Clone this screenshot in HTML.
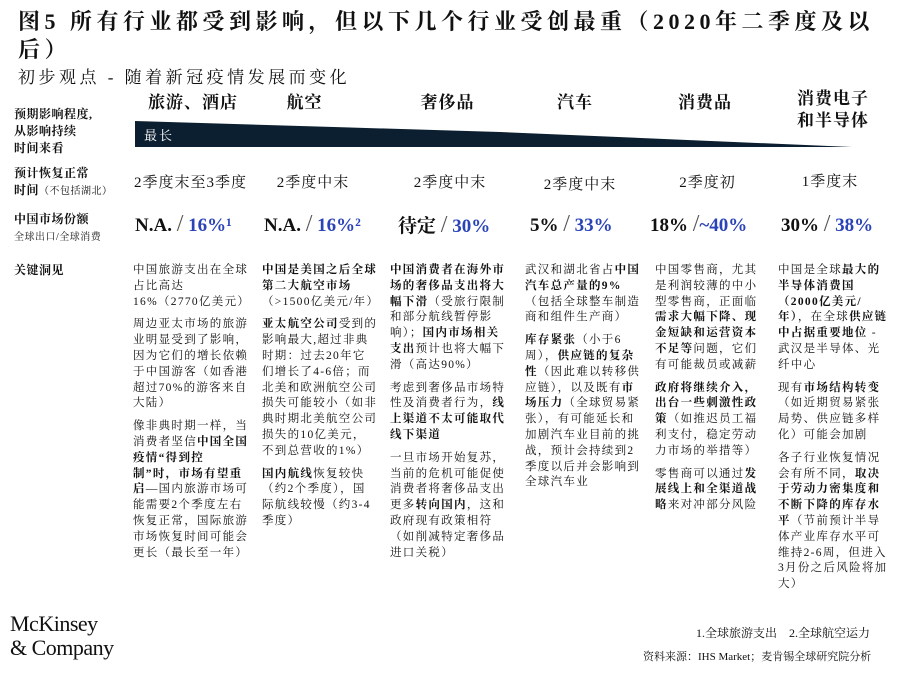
<!DOCTYPE html>
<html><head><meta charset="utf-8"><style>
body{margin:0;width:902px;height:675px;background:#fff;position:relative;overflow:hidden;font-family:"Liberation Serif","Noto Serif CJK SC",serif;color:#111}
.a{position:absolute;white-space:nowrap}
.t{font-weight:bold;font-size:22px;line-height:28px;letter-spacing:4.5px}
.h{font-weight:bold;font-size:17px;text-align:center;letter-spacing:1px}
.lab{font-weight:bold;font-size:12px;line-height:17px;letter-spacing:0.5px}
.q{font-size:15px;text-align:center;letter-spacing:1px}
.s{font-size:19px;font-weight:bold;text-align:center}
.s b{color:#2a44b8}
.s i{font-style:normal;font-weight:normal;color:#555;font-size:24px}
.c{font-size:11.5px;line-height:15.8px;white-space:normal;width:116px;letter-spacing:1.3px}
.c p{margin:0 0 7px 0}
.c b{font-weight:bold}
</style></head><body>
<div class="a t" style="left:18px;top:8px">图5 所有行业都受到影响，但以下几个行业受创最重（2020年二季度及以<br>后）</div>
<div class="a" style="left:18px;top:63px;font-size:17px;letter-spacing:3.5px">初步观点 - 随着新冠疫情发展而变化</div>
<div class="a h" style="left:133px;top:88px;width:120px">旅游、酒店</div>
<div class="a h" style="left:262px;top:88px;width:85px">航空</div>
<div class="a h" style="left:390px;top:88px;width:115px">奢侈品</div>
<div class="a h" style="left:525px;top:88px;width:100px">汽车</div>
<div class="a h" style="left:655px;top:88px;width:100px">消费品</div>
<div class="a h" style="left:778px;top:88px;width:110px;line-height:22px">消费电子<br>和半导体</div>
<div class="a lab" style="left:14px;top:106px">预期影响程度,<br>从影响持续<br>时间来看</div>
<svg class="a" style="left:0;top:0" width="902" height="675"><polygon points="135,121 500,132 852,147 135,147" fill="#0c1f30"/></svg>
<div class="a" style="left:144px;top:125px;color:#fff;font-size:13px;letter-spacing:2px">最长</div>
<div class="a lab" style="left:14px;top:165px">预计恢复正常<br>时间<span style="font-weight:normal;font-size:10px">（不包括湖北）</span></div>
<div class="a q" style="left:128px;top:171px;width:125px">2季度末至3季度</div>
<div class="a q" style="left:268px;top:171px;width:90px">2季度中末</div>
<div class="a q" style="left:400px;top:171px;width:100px">2季度中末</div>
<div class="a q" style="left:530px;top:173px;width:100px">2季度中末</div>
<div class="a q" style="left:660px;top:171px;width:95px">2季度初</div>
<div class="a q" style="left:785px;top:170px;width:90px">1季度末</div>
<div class="a lab" style="left:14px;top:211px">中国市场份额<br><span style="font-weight:normal;font-size:10px">全球出口/全球消费</span></div>
<div class="a s" style="left:135px;top:211px">N.A. <i>/</i> <b>16%¹</b></div>
<div class="a s" style="left:264px;top:211px">N.A. <i>/</i> <b>16%²</b></div>
<div class="a s" style="left:398px;top:211px">待定 <i>/</i> <b>30%</b></div>
<div class="a s" style="left:530px;top:211px">5% <i>/</i> <b>33%</b></div>
<div class="a s" style="left:650px;top:211px">18% <i>/</i><b>~40%</b></div>
<div class="a s" style="left:781px;top:211px">30% <i>/</i> <b>38%</b></div>
<div class="a lab" style="left:14px;top:262px">关键洞见</div>
<div class="a c" style="left:133px;top:263px"><p>中国旅游支出在全球占比高达16%（2770亿美元）</p><p>周边亚太市场的旅游业明显受到了影响，因为它们的增长依赖于中国游客（如香港超过70%的游客来自大陆）</p><p>像非典时期一样，当消费者坚信<b>中国全国疫情“得到控制”时，市场有望重启</b>—国内旅游市场可能需要2个季度左右恢复正常，国际旅游市场恢复时间可能会更长（最长至一年）</p></div>
<div class="a c" style="left:262px;top:263px"><p><b>中国是美国之后全球第二大航空市场</b>（&gt;1500亿美元/年）</p><p><b>亚太航空公司</b>受到的影响最大,超过非典时期：过去20年它们增长了4-6倍；而北美和欧洲航空公司损失可能较小（如非典时期北美航空公司损失的10亿美元，不到总营收的1%）</p><p><b>国内航线</b>恢复较快（约2个季度），国际航线较慢（约3-4季度）</p></div>
<div class="a c" style="left:390px;top:263px"><p><b>中国消费者在海外市场的奢侈品支出将大幅下滑</b>（受旅行限制和部分航线暂停影响）；<b>国内市场相关支出</b>预计也将大幅下滑（高达90%）</p><p>考虑到奢侈品市场特性及消费者行为，<b>线上渠道不太可能取代线下渠道</b></p><p>一旦市场开始复苏，当前的危机可能促使消费者将奢侈品支出更多<b>转向国内</b>，这和政府现有政策相符（如削减特定奢侈品进口关税）</p></div>
<div class="a c" style="left:525px;top:263px"><p>武汉和湖北省占<b>中国汽车总产量的9%</b>（包括全球整车制造商和组件生产商）</p><p><b>库存紧张</b>（小于6周），<b>供应链的复杂性</b>（因此难以转移供应链），以及既有<b>市场压力</b>（全球贸易紧张），有可能延长和加剧汽车业目前的挑战，预计会持续到2季度以后并会影响到全球汽车业</p></div>
<div class="a c" style="left:655px;top:263px;width:112px"><p>中国零售商，尤其是利润较薄的中小型零售商，正面临<b>需求大幅下降、现金短缺和运营资本不足等</b>问题，它们有可能裁员或减薪</p><p><b>政府将继续介入，出台一些刺激性政策</b>（如推迟员工福利支付，稳定劳动力市场的举措等）</p><p>零售商可以通过<b>发展线上和全渠道战略</b>来对冲部分风险</p></div>
<div class="a c" style="left:778px;top:263px;width:114px"><p>中国是全球<b>最大的半导体消费国（2000亿美元/年）</b>，在全球<b>供应链中占据重要地位</b> - 武汉是半导体、光纤中心</p><p>现有<b>市场结构转变</b>（如近期贸易紧张局势、供应链多样化）可能会加剧</p><p>各子行业恢复情况会有所不同，<b>取决于劳动力密集度和不断下降的库存水平</b>（节前预计半导体产业库存水平可维持2-6周，但进入3月份之后风险将加大）</p></div>
<div class="a" style="left:10px;top:612px;font-size:22px;line-height:24px;color:#111;letter-spacing:-0.5px">McKinsey<br>&amp; Company</div>
<div class="a" style="left:696px;top:624px;font-size:12px">1.全球旅游支出　2.全球航空运力</div>
<div class="a" style="left:643px;top:648px;font-size:11px">资料来源：IHS Market；麦肯锡全球研究院分析</div>
</body></html>
